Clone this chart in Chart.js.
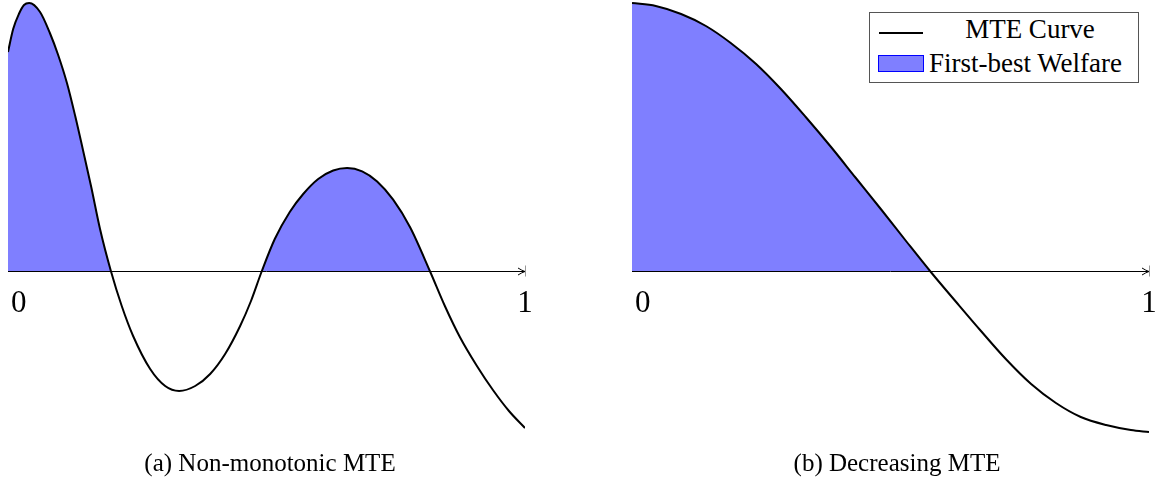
<!DOCTYPE html>
<html lang="en">
<head>
<meta charset="UTF-8" />
<title>MTE Curves</title>
<script src="https://cdn.jsdelivr.net/npm/chart.js"></script>
<style>
  body { margin: 0; background: #fff; width: 1156px; height: 486px; position: relative; overflow: hidden;
         font-family: "Liberation Serif", "DejaVu Serif", serif; color: #000; }
  canvas { position: absolute; top: 0; }
  #c1 { left: 0; }
  #c2 { left: 578px; }
  .caption { position: absolute; top: 449px; font-size: 25px; text-align: center; width: 578px; }
  .legend { position: absolute; left: 869px; top: 12px; width: 270px; height: 71px; border: 1px solid #555;
            box-sizing: border-box; background: #fff; font-size: 27px; }
  .legend .line { position: absolute; left: 9px; top: 19px; width: 44px; height: 2px; background: #000; }
  .legend .box { position: absolute; left: 8px; top: 42px; width: 46px; height: 17px; box-sizing: border-box;
                 border: 1.5px solid #0000ff; background: rgba(0, 0, 255, 0.5); }
  .legend .t1 { position: absolute; left: 58px; right: 6px; top: 1px; text-align: center; }
  .legend .t2 { position: absolute; left: 59px; top: 35px; white-space: nowrap; }
</style>
</head>
<body>
<canvas id="c1" width="578" height="486"></canvas>
<canvas id="c2" width="578" height="486"></canvas>

<div class="caption" style="left:-19px;">(a) Non-monotonic MTE</div>
<div class="caption" style="left:608px;">(b) Decreasing MTE</div>

<div class="legend">
  <div class="line"></div>
  <div class="t1">MTE Curve</div>
  <div class="box"></div>
  <div class="t2">First-best Welfare</div>
</div>

<script>
// values (x from 0 to 1, MTE in arbitrary units)
const xNonMono = [0, 0.010, 0.021, 0.031, 0.041, 0.062, 0.081, 0.097, 0.114, 0.130, 0.145, 0.161,
  0.178, 0.199, 0.220, 0.242, 0.275, 0.304, 0.331, 0.362, 0.391, 0.420, 0.449, 0.470, 0.491,
  0.516, 0.545, 0.571, 0.600, 0.629, 0.656, 0.685, 0.714, 0.745, 0.778, 0.816, 0.845, 0.874,
  0.907, 0.938, 0.969, 1.0];
const mteNonMono = [2.19, 2.42, 2.57, 2.66, 2.68, 2.59, 2.38, 2.16, 1.88, 1.55, 1.21, 0.84,
  0.42, 0, -0.35, -0.65, -0.98, -1.15, -1.20, -1.15, -1.03, -0.83, -0.55, -0.30, 0,
  0.32, 0.59, 0.77, 0.92, 1.005, 1.03, 0.996, 0.895, 0.713, 0.435, 0, -0.35, -0.66,
  -0.95, -1.19, -1.40, -1.57];

const xDecr = [0, 0.046, 0.095, 0.143, 0.191, 0.240, 0.288, 0.336, 0.385, 0.433, 0.482, 0.530,
  0.578, 0.627, 0.675, 0.723, 0.772, 0.820, 0.868, 0.917, 0.965, 1.0];
const mteDecr = [2.68, 2.65, 2.57, 2.45, 2.28, 2.07, 1.82, 1.54, 1.24, 0.93, 0.615, 0.30,
  -0.01, -0.31, -0.60, -0.88, -1.13, -1.32, -1.46, -1.54, -1.59, -1.61];

const tickValues = [0, 1];
const tickLabels = ["0", "1"];

// draws the horizontal axis with arrow and the 0 / 1 labels
const axisPlugin = {
  id: "axisArrow",
  beforeDatasetsDraw(chart) {
    const ctx = chart.ctx;
    const xs = chart.scales.x, ys = chart.scales.y;
    const y0 = Math.round(ys.getPixelForValue(0)) + 0.5;
    const xa = xs.getPixelForValue(tickValues[0]);
    const xb = xs.getPixelForValue(tickValues[1]);
    ctx.save();
    ctx.strokeStyle = "#000";
    ctx.lineWidth = 1;
    ctx.beginPath();
    ctx.moveTo(xa, y0);
    ctx.lineTo(xb, y0);
    ctx.stroke();
    // arrow head
    ctx.beginPath();
    ctx.moveTo(xb - 7, y0 - 3.5);
    ctx.quadraticCurveTo(xb - 3, y0 - 1, xb, y0);
    ctx.quadraticCurveTo(xb - 3, y0 + 1, xb - 7, y0 + 3.5);
    ctx.stroke();
    // end tick
    ctx.strokeStyle = "#999";
    ctx.beginPath();
    ctx.moveTo(xb + 0.5, y0 - 6);
    ctx.lineTo(xb + 0.5, y0 + 5);
    ctx.stroke();
    // labels
    ctx.fillStyle = "#000";
    ctx.font = '31px "Liberation Serif", serif';
    ctx.textBaseline = "alphabetic";
    ctx.textAlign = "left";
    ctx.fillText(tickLabels[0], xa + 3, y0 + 40);
    ctx.textAlign = "center";
    ctx.fillText(tickLabels[1], xb, y0 + 40);
    ctx.restore();
  }
};

function makeChart(id, xs, ys, padLeft, padRight) {
  const pts = xs.map((x, i) => ({ x: x, y: ys[i] }));
  return new Chart(document.getElementById(id), {
    type: "line",
    data: {
      datasets: [{
        label: "MTE Curve",
        data: pts,
        borderColor: "#000",
        borderWidth: 2,
        pointRadius: 0,
        cubicInterpolationMode: "monotone",
        fill: { target: { value: 0 }, above: "rgba(0, 0, 255, 0.5)", below: "rgba(0, 0, 0, 0)" }
      }]
    },
    options: {
      responsive: false,
      animation: false,
      devicePixelRatio: 1,
      layout: { padding: { left: padLeft, right: padRight, top: 0, bottom: 41 } },
      scales: {
        x: { type: "linear", min: 0, max: 1, display: false },
        y: { min: -1.74, max: 2.71, display: false }
      },
      plugins: { legend: { display: false }, tooltip: { enabled: false } }
    },
    plugins: [axisPlugin]
  });
}

makeChart("c1", xNonMono, mteNonMono, 8, 53);
makeChart("c2", xDecr, mteDecr, 54, 7);
</script>
</body>
</html>
